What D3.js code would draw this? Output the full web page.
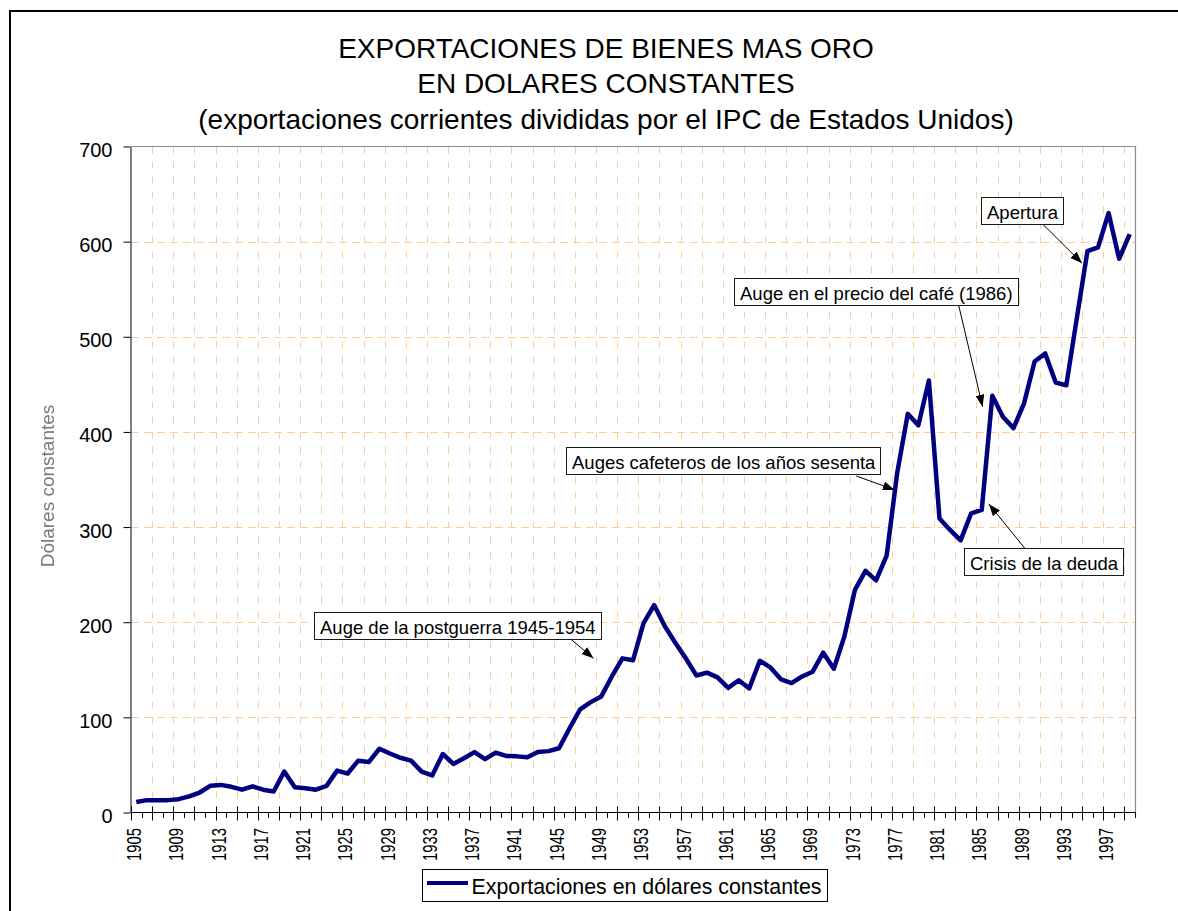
<!DOCTYPE html>
<html>
<head>
<meta charset="utf-8">
<script src="https://cdn.jsdelivr.net/npm/d3@7"></script>
<style>
    body { margin: 0; background: #fff; }
    svg { display: block; font-family: "Liberation Sans", Arial, sans-serif; }
</style>
</head>
<body>
<div class="chart"></div>
<script>
    //data
    var years = d3.range(1905, 2000);
    var exportValues = [
        11, 13, 13, 13, 14, 17, 21, 28, 29, 27,
        24, 27.5, 24, 22, 43, 26.5, 25.5, 24, 28, 44,
        41, 54.5, 53, 67, 62, 57.5, 54.5, 43, 39, 61.5,
        51, 57, 63.5, 56, 63, 59.5, 59, 58, 63.5, 64.5,
        67.5, 88.5, 108.5, 116, 122, 143, 162, 160, 199, 218,
        196, 178.5, 162, 144, 147, 142, 131, 139, 130.5, 159.5,
        152.5, 140, 136, 143, 148, 168, 151, 185, 234, 254,
        244, 270, 357, 419, 407, 454, 309, 297, 286, 314.5,
        318, 438, 416, 404, 430, 474, 482.5, 452, 449, 520,
        590, 594, 630, 582, 608
    ];
    var yTicks = [0, 100, 200, 300, 400, 500, 600, 700];
    var titleLines = [
        "EXPORTACIONES DE BIENES MAS ORO",
        "EN DOLARES CONSTANTES",
        "(exportaciones corrientes divididas por el IPC de Estados Unidos)"
    ];
    var yTitle = "Dólares constantes";
    var seriesName = "Exportaciones en dólares constantes";

    //annotations: text, box corner, arrow start and arrow tip in [year, value]
    var noteTexts = [
        "Auge de la postguerra 1945-1954",
        "Auges cafeteros de los años sesenta",
        "Auge en el precio del café (1986)",
        "Crisis de la deuda",
        "Apertura"
    ];
    var noteBox = [[1921.85, 210.4], [1945.68, 383.9], [1961.51, 562.1], [1983.34, 277.7], [1984.95, 646.6]];
    var noteFrom = [[1945.77, 185.5], [1973.12, 353.7], [1982.81, 533.4], [1989.05, 278], [1990.79, 618.2]];
    var noteTip = [[1948.26, 162], [1976.77, 339], [1985.08, 426.5], [1985.67, 324.3], [1994.49, 577.3]];

    var plotLeft = 131, plotRight = 1135, plotTop = 146.5, plotBottom = 812.5;
    var gridColor = "#ffcc99";

    const svg = d3.select(".chart")
        .append("svg")
        .attr("width", 1178)
        .attr("height", 911);

    var x = d3.scaleBand().domain(years).range([plotLeft, plotRight]);
    var bw = x.bandwidth();
    // fractional year -> pixel, year centred in its band
    var xf = d3.scaleLinear().domain([1905, 2000]).range([plotLeft, plotRight]);
    var px = function (yr) { return xf(yr + 0.5); };
    var y = d3.scaleLinear().domain([0, 700]).range([plotBottom, plotTop]);

    //outer chart border, runs past the window on right and bottom
    svg.append("rect")
        .attr("x", 10).attr("y", 11)
        .attr("width", 1300).attr("height", 1000)
        .attr("fill", "none")
        .attr("stroke", "#000")
        .attr("stroke-width", 2);

    //title
    svg.append("g").selectAll("text")
        .data(titleLines)
        .enter()
        .append("text")
        .attr("x", 606)
        .attr("y", function (d, i) { return 57.5 + i * 35.5 })
        .attr("text-anchor", "middle")
        .attr("font-size", 28)
        .attr("fill", "#000")
        .text(function (d) { return d });

    //gridlines
    svg.append("g").selectAll("line")
        .data(yTicks.filter(function (v) { return v > 0 && v < 700 }))
        .enter()
        .append("line")
        .attr("x1", plotLeft).attr("x2", plotRight)
        .attr("y1", function (d) { return Math.round(y(d)) + 0.5 })
        .attr("y2", function (d) { return Math.round(y(d)) + 0.5 })
        .attr("stroke", gridColor)
        .attr("stroke-dasharray", "8,5");

    var boundaries = years.map(function (d) { return x(d) }).concat([plotRight]);

    svg.append("g").selectAll("line")
        .data(boundaries.filter(function (d, i) { return i > 0 && i < 95 && i % 2 === 0 }))
        .enter()
        .append("line")
        .attr("x1", function (d) { return Math.round(d) + 0.5 })
        .attr("x2", function (d) { return Math.round(d) + 0.5 })
        .attr("y1", plotTop).attr("y2", plotBottom)
        .attr("stroke", gridColor)
        .attr("stroke-dasharray", "7,8");

    //plot border top and right
    svg.append("path")
        .attr("d", "M" + plotLeft + "," + plotTop + "H" + (plotRight + 0.5) + "V" + plotBottom)
        .attr("fill", "none")
        .attr("stroke", "#8c8c8c")
        .attr("stroke-width", 1.2);

    //y axis
    const yAxis = svg.append("g")
        .attr("transform", "translate(" + (plotLeft - 0.5) + ",0)")
        .call(d3.axisLeft(y).tickValues(yTicks).tickSize(7).tickSizeOuter(0).tickPadding(11));
    yAxis.select(".domain").attr("stroke", "#000");
    yAxis.selectAll(".tick line").attr("stroke", "#000");
    yAxis.selectAll(".tick text")
        .attr("font-family", "\"Liberation Sans\", Arial, sans-serif")
        .attr("font-size", 20)
        .attr("fill", "#000")
        .attr("dy", "0.5em");

    //y axis title
    var defs = svg.append("defs");
    defs.append("filter").attr("id", "soft")
        .append("feGaussianBlur").attr("stdDeviation", 0.55);

    svg.append("text")
        .attr("transform", "translate(54,486) rotate(-90)")
        .attr("text-anchor", "middle")
        .attr("font-size", 19)
        .attr("fill", "#7a7a7a")
        .attr("filter", "url(#soft)")
        .text(yTitle);

    //x axis line and ticks
    svg.append("line")
        .attr("x1", plotLeft - 0.5).attr("x2", plotRight + 0.5)
        .attr("y1", plotBottom).attr("y2", plotBottom)
        .attr("stroke", "#000");

    svg.append("g").selectAll("line")
        .data(boundaries)
        .enter()
        .append("line")
        .attr("x1", function (d) { return Math.round(d) + 0.5 })
        .attr("x2", function (d) { return Math.round(d) + 0.5 })
        .attr("y1", function (d, i) { return i % 2 === 0 ? plotBottom - 6 : plotBottom })
        .attr("y2", function (d, i) { return i % 2 === 0 ? plotBottom + 8 : plotBottom + 5.5 })
        .attr("stroke", "#000");

    svg.append("g").selectAll("text")
        .data(years.filter(function (d, i) { return i % 4 === 0 }))
        .enter()
        .append("text")
        .attr("transform", function (d) { return "translate(" + (x(d) + 3) + "," + (plotBottom + 15.5) + ") rotate(-90)" })
        .attr("text-anchor", "end")
        .attr("dy", "0.35em")
        .attr("font-size", 20)
        .attr("textLength", 33)
        .attr("lengthAdjust", "spacingAndGlyphs")
        .attr("fill", "#000")
        .text(function (d) { return d });

    //series line
    var line = d3.line()
        .x(function (d, i) { return x(years[i]) + bw / 2 })
        .y(function (d) { return y(d) });

    svg.append("path")
        .datum(exportValues)
        .attr("d", line)
        .attr("fill", "none")
        .attr("stroke", "#000080")
        .attr("stroke-width", 4.5)
        .attr("stroke-linejoin", "round");

    //arrow marker
    defs.append("marker")
        .attr("id", "arrow")
        .attr("markerUnits", "userSpaceOnUse")
        .attr("viewBox", "0 0 12 9")
        .attr("markerWidth", 12).attr("markerHeight", 9)
        .attr("refX", 12).attr("refY", 4.5)
        .attr("orient", "auto")
        .append("path")
        .attr("d", "M0,0L12,4.5L0,9Z")
        .attr("fill", "#000");

    var notes = svg.append("g");
    noteTexts.forEach(function (t, i) {
        notes.append("line")
            .attr("x1", px(noteFrom[i][0])).attr("y1", y(noteFrom[i][1]))
            .attr("x2", px(noteTip[i][0])).attr("y2", y(noteTip[i][1]))
            .attr("stroke", "#000")
            .attr("marker-end", "url(#arrow)");

        var bx = Math.round(px(noteBox[i][0])) + 0.5;
        var by = Math.round(y(noteBox[i][1])) + 0.5;
        var box = notes.append("rect")
            .attr("x", bx).attr("y", by)
            .attr("height", 27)
            .attr("fill", "#fff")
            .attr("stroke", "#1a1a1a");
        var label = notes.append("text")
            .attr("x", bx + 5.5)
            .attr("y", by + 21.5)
            .attr("font-size", 18.5)
            .attr("fill", "#000")
            .text(t);
        box.attr("width", Math.round(label.node().getComputedTextLength() + 11));
    });

    //legend
    const legend = svg.append("g");
    legend.append("rect")
        .attr("x", 422.5).attr("y", 869.5)
        .attr("width", 405).attr("height", 32)
        .attr("fill", "#fff")
        .attr("stroke", "#000");
    legend.append("line")
        .attr("x1", 427).attr("x2", 468)
        .attr("y1", 883).attr("y2", 883)
        .attr("stroke", "#000080")
        .attr("stroke-width", 4);
    legend.append("text")
        .attr("x", 471.5).attr("y", 893.5)
        .attr("font-size", 22)
        .attr("textLength", 350)
        .attr("lengthAdjust", "spacingAndGlyphs")
        .attr("fill", "#000")
        .text(seriesName);
</script>
</body>
</html>
